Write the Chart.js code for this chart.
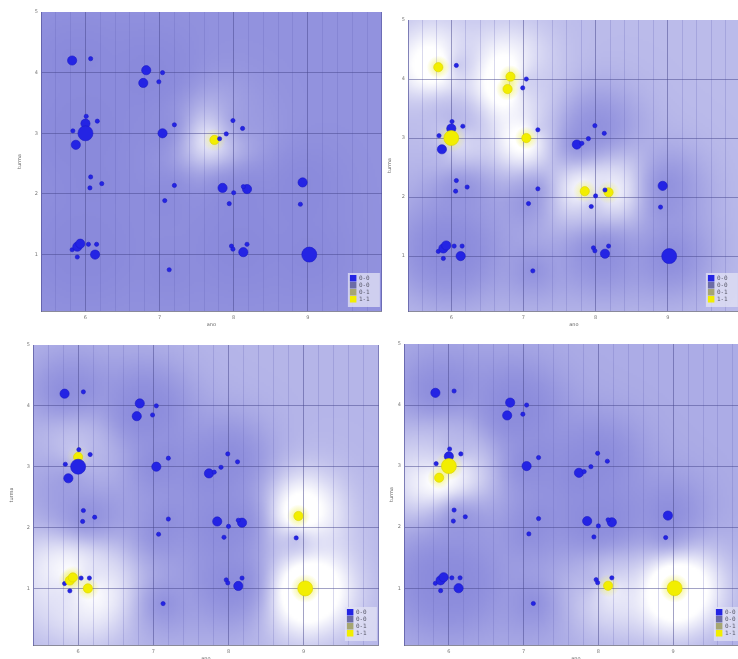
<!DOCTYPE html>
<html>
<head>
<meta charset="utf-8">
<script src="https://cdn.jsdelivr.net/npm/chart.js@4.4.1/dist/chart.umd.min.js"></script>
<style>
  html, body { margin: 0; padding: 0; background: #fff; width: 738px; height: 659px; overflow: hidden; position: relative; }
  canvas { position: absolute; }
</style>
</head>
<body>
<canvas id="p1" width="390" height="340" style="left:0px;top:0px"></canvas>
<canvas id="p2" width="364" height="340" style="left:384px;top:0px"></canvas>
<canvas id="p3" width="387" height="342" style="left:0px;top:332px"></canvas>
<canvas id="p4" width="372" height="343" style="left:384px;top:331px"></canvas>
<script>
// Students by year (ano) and class group (turma)
const ano = [5.82, 6.07, 6.82, 6.78, 7.04, 6.99, 6.01, 6.16, 5.83, 6.00, 6.00,
             5.87, 7.04, 7.20, 7.74, 7.81, 7.90, 7.99, 8.12, 6.07, 6.06, 6.22,
             7.20, 7.07, 7.85, 8.00, 8.18, 8.13, 7.94, 8.93, 8.90, 5.82, 5.89,
             5.93, 5.89, 6.04, 6.15, 6.13, 7.13, 7.97, 7.99, 8.13, 8.18, 9.02];
const turma = [4.20, 4.23, 4.04, 3.83, 4.00, 3.85, 3.28, 3.20, 3.04, 3.16, 3.00,
               2.81, 3.00, 3.14, 2.89, 2.91, 2.99, 3.21, 3.08, 2.28, 2.10, 2.17,
               2.14, 1.89, 2.10, 2.02, 2.08, 2.12, 1.84, 2.19, 1.83, 1.08, 1.13,
               1.18, 0.96, 1.17, 1.17, 1.00, 0.75, 1.14, 1.09, 1.04, 1.17, 1.00];
// number of students at each point
const alunos = [2, 1, 2, 2, 1, 1, 1, 1, 1, 2, 3,
                2, 2, 1, 2, 1, 1, 1, 1, 1, 1, 1,
                1, 1, 2, 1, 2, 1, 1, 2, 1, 1, 2,
                2, 1, 1, 1, 2, 1, 1, 1, 2, 1, 3];

// class of each point in the four views (index into classLabels)
const classesA = [0, 0, 0, 0, 0, 0, 0, 0, 0, 0, 0,
                  0, 0, 0, 3, 0, 0, 0, 0, 0, 0, 0,
                  0, 0, 0, 0, 0, 0, 0, 0, 0, 0, 0,
                  0, 0, 0, 0, 0, 0, 0, 0, 0, 0, 0];
const classesB = [3, 0, 3, 3, 0, 0, 0, 0, 0, 0, 3,
                  0, 3, 0, 0, 0, 0, 0, 0, 0, 0, 0,
                  0, 0, 3, 0, 3, 0, 0, 0, 0, 0, 0,
                  0, 0, 0, 0, 0, 0, 0, 0, 0, 0, 0];
const classesC = [0, 0, 0, 0, 0, 0, 0, 0, 0, 3, 0,
                  0, 0, 0, 0, 0, 0, 0, 0, 0, 0, 0,
                  0, 0, 0, 0, 0, 0, 0, 3, 0, 0, 3,
                  3, 0, 0, 0, 3, 0, 0, 0, 0, 0, 3];
const classesD = [0, 0, 0, 0, 0, 0, 0, 0, 0, 0, 3,
                  3, 0, 0, 0, 0, 0, 0, 0, 0, 0, 0,
                  0, 0, 0, 0, 0, 0, 0, 0, 0, 0, 0,
                  0, 0, 0, 0, 0, 0, 0, 0, 3, 0, 3];

const classLabels = ['0-0', '0-0', '0-1', '1-1'];
const xTickLabels = ['6', '7', '8', '9'];
const yTickLabels = ['1', '2', '3', '4', '5'];

const classColors = ['#2424e4', '#6c6ca6', '#a6a672', '#f2ee00'];
const classBorders = ['#1a1ac8', '#5a5a90', '#8e8e60', '#dcd400'];
const radiusFor = n => (n >= 3 ? 7.5 : n === 2 ? 4.6 : 2.1);

const FONT = '"DejaVu Sans", sans-serif';
const BASE = [137, 137, 219];

function isInt(v) { return Math.abs(v - Math.round(v)) < 1e-6; }

// background shading: smoothed share of "1-1" students around each pixel
const fieldPlugin = {
  id: 'classField',
  beforeDraw(chart, args, opts) {
    const { ctx, chartArea: a, scales: { x, y } } = chart;
    const cls = opts.classes;
    ctx.save();
    ctx.fillStyle = '#fff';
    ctx.fillRect(0, 0, chart.width, chart.height);
    const pts = ano.map((v, i) => ({
      px: x.getPixelForValue(v), py: y.getPixelForValue(turma[i]),
      n: alunos[i], c: cls[i] === 3 ? 1 : 0
    }));
    let tot = 0, yel = 0;
    pts.forEach(p => { tot += p.n; yel += p.n * p.c; });
    const prior = yel / tot;
    const lambda = 13, eps = 0.15, gain = 1.5;
    const step = 2;
    const w = Math.ceil((a.right - a.left) / step), h = Math.ceil((a.bottom - a.top) / step);
    const off = document.createElement('canvas');
    off.width = w; off.height = h;
    const octx = off.getContext('2d');
    const img = octx.createImageData(w, h);
    const valueAt = (px, py) => {
      let S = 0, Y = 0;
      for (const p of pts) {
        const dx = px - p.px, dy = py - p.py;
        const k = p.n * Math.exp(-Math.sqrt(dx * dx + dy * dy) / lambda);
        S += k; Y += k * p.c;
      }
      return (Y + eps * prior) / (S + eps);
    };
    for (let j = 0; j < h; j++) {
      const py = a.top + (j + 0.5) * step;
      for (let i = 0; i < w; i++) {
        const px = a.left + (i + 0.5) * step;
        let t = Math.min(1, gain * valueAt(px, py));
        t = Math.pow(t, 0.85);
        const o = (j * w + i) * 4;
        img.data[o] = BASE[0] + (255 - BASE[0]) * t;
        img.data[o + 1] = BASE[1] + (255 - BASE[1]) * t;
        img.data[o + 2] = BASE[2] + (255 - BASE[2]) * t;
        img.data[o + 3] = 255;
      }
    }
    octx.putImageData(img, 0, 0);
    ctx.imageSmoothingEnabled = true;
    ctx.drawImage(off, a.left, a.top, a.right - a.left, a.bottom - a.top);
    // faint yellow fringe round the "1-1" points
    ctx.beginPath();
    ctx.rect(a.left, a.top, a.right - a.left, a.bottom - a.top);
    ctx.clip();
    pts.forEach(p => {
      if (!p.c) return;
      const r = radiusFor(p.n);
      const strength = Math.min(1, valueAt(p.px, p.py) * 1.3);
      const g = ctx.createRadialGradient(p.px, p.py, r * 0.8, p.px, p.py, r + 7);
      g.addColorStop(0, 'rgba(236,236,70,' + (0.5 * strength).toFixed(3) + ')');
      g.addColorStop(1, 'rgba(236,236,70,0)');
      ctx.fillStyle = g;
      ctx.beginPath();
      ctx.arc(p.px, p.py, r + 7, 0, Math.PI * 2);
      ctx.fill();
    });
    ctx.restore();
  }
};

// small legend box in the lower right corner of the plot
const boxLegendPlugin = {
  id: 'boxLegend',
  afterDatasetsDraw(chart) {
    const { ctx, chartArea: a } = chart;
    const bx = a.right - 34, by = a.bottom - 38;
    ctx.save();
    ctx.fillStyle = 'rgba(224,224,244,0.78)';
    ctx.fillRect(bx, by, 32, 34);
    ctx.font = '6px "DejaVu Sans Mono", monospace';
    ctx.textBaseline = 'middle';
    classLabels.forEach((lab, k) => {
      const cy = a.bottom - 33 + k * 7;
      ctx.fillStyle = classColors[k];
      ctx.fillRect(bx + 2, cy - 3, 6.5, 6.5);
      ctx.fillStyle = '#5a5a6a';
      ctx.fillText(lab, bx + 11, cy + 0.5);
    });
    ctx.restore();
  }
};

function makePanel(id, classes, geo) {
  const ctx = document.getElementById(id);
  return new Chart(ctx, {
    type: 'scatter',
    data: {
      datasets: [{
        data: ano.map((v, i) => ({ x: v, y: turma[i] })),
        pointRadius: c => radiusFor(alunos[c.dataIndex]),
        pointBackgroundColor: c => classColors[classes[c.dataIndex]],
        pointBorderColor: c => classBorders[classes[c.dataIndex]],
        pointBorderWidth: 0.6
      }]
    },
    options: {
      responsive: false,
      devicePixelRatio: 1,
      animation: false,
      events: [],
      layout: { padding: { top: geo.top, right: 1, left: 0, bottom: 0 } },
      plugins: {
        legend: { display: false },
        tooltip: { enabled: false },
        classField: { classes: classes }
      },
      scales: {
        x: {
          type: 'linear', min: 5.4, max: 10,
          afterFit: s => { s.height = 29; },
          ticks: {
            stepSize: 0.2, autoSkip: false, maxRotation: 0, padding: 4,
            color: '#777', font: { size: 5, family: FONT },
            callback: v => (isInt(v) && xTickLabels.includes(String(Math.round(v))) ? String(Math.round(v)) : '')
          },
          grid: {
            drawTicks: false, lineWidth: 1,
            color: c => (isInt(c.tick.value) ? 'rgba(70,70,140,0.5)' : 'rgba(95,95,180,0.24)')
          },
          border: { display: true, color: '#8a8a9a', width: 1 },
          title: { display: true, text: 'ano', color: '#666', font: { size: 5, family: FONT }, padding: { top: 0, bottom: 12 } }
        },
        y: {
          type: 'linear', min: 0.07, max: 5,
          afterFit: s => { s.width = geo.yw; },
          ticks: {
            stepSize: 1, padding: 3,
            color: '#777', font: { size: 5, family: FONT },
            callback: v => (isInt(v) && yTickLabels.includes(String(Math.round(v))) ? String(Math.round(v)) : '')
          },
          grid: {
            drawTicks: false, lineWidth: 1,
            color: c => (isInt(c.tick.value) && c.tick.value < 5 ? 'rgba(70,70,140,0.5)' : 'rgba(0,0,0,0)')
          },
          border: { display: true, color: 'rgba(80,80,150,0.6)', width: 1 },
          title: { display: true, text: 'turma', color: '#666', font: { size: 5, family: FONT }, padding: { top: geo.tp, bottom: 0 } }
        }
      }
    },
    plugins: [fieldPlugin, boxLegendPlugin]
  });
}

makePanel('p1', classesA, { top: 12, yw: 41, tp: 17 });
makePanel('p2', classesB, { top: 20, yw: 24, tp: 3 });
makePanel('p3', classesC, { top: 13, yw: 33, tp: 9 });
makePanel('p4', classesD, { top: 13, yw: 20, tp: 5 });
</script>
</body>
</html>
